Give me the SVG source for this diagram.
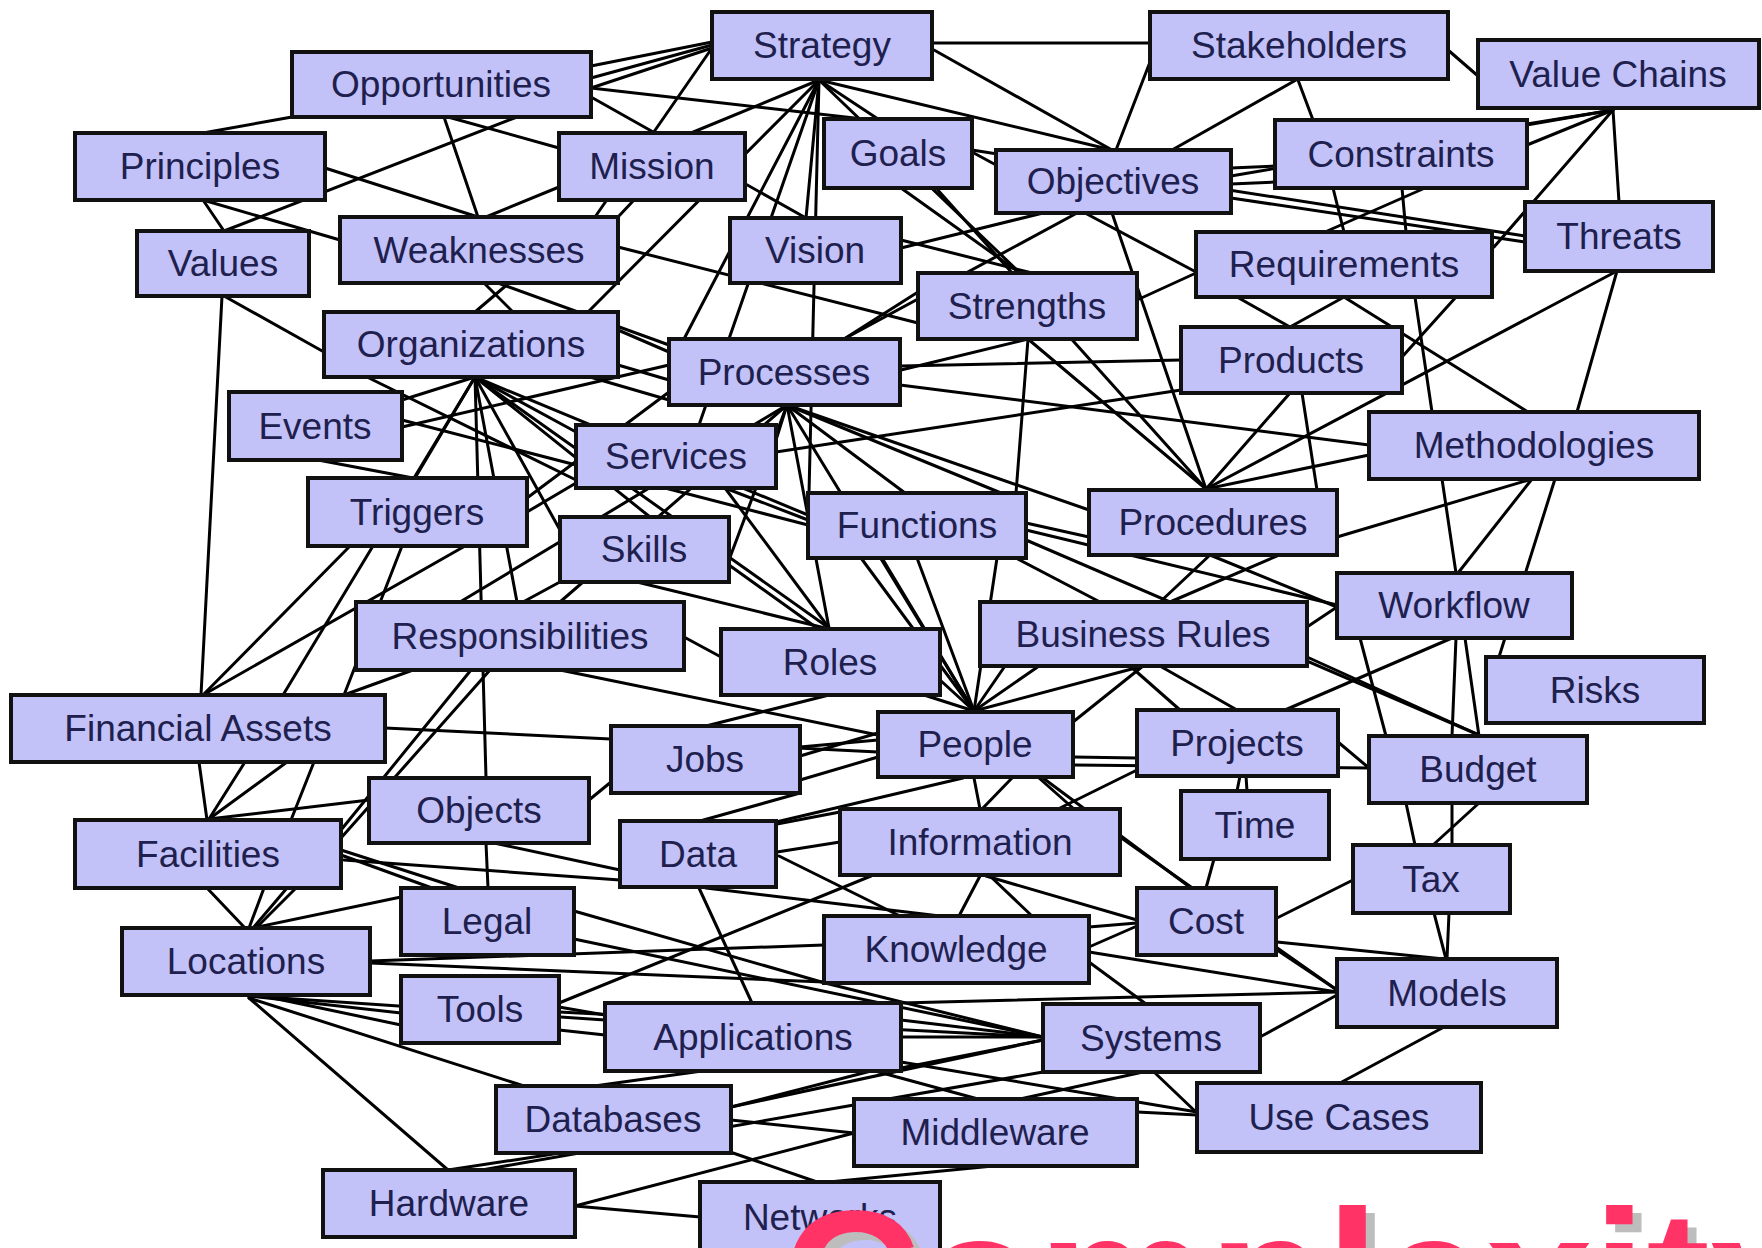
<svg xmlns="http://www.w3.org/2000/svg" width="1762" height="1248" viewBox="0 0 1762 1248">
<style>
.box{fill:#c2c2f8;stroke:#111;stroke-width:4}
.lbl{font-family:"Liberation Sans",Arial,sans-serif;font-size:37px;fill:#20204e;text-anchor:middle}
#connectors line{stroke:#000;stroke-width:3;stroke-linecap:round}
.big{font-family:"Liberation Sans",Arial,sans-serif;font-weight:bold;font-size:192px}
</style>
<rect width="1762" height="1248" fill="#fff"/>
<g id="connectors">
<line x1="932" y1="43" x2="1150" y2="43"/><line x1="1448" y1="50" x2="1478" y2="76"/><line x1="1296" y1="80" x2="1172" y2="150"/><line x1="1298" y1="80" x2="1313" y2="120"/><line x1="1150" y1="62" x2="1116" y2="150"/><line x1="934" y1="50" x2="1112" y2="150"/><line x1="819" y1="80" x2="1112" y2="150"/><line x1="712" y1="42" x2="591" y2="66"/><line x1="712" y1="45" x2="591" y2="78"/><line x1="712" y1="48" x2="591" y2="88"/><line x1="591" y1="88" x2="863" y2="119"/><line x1="591" y1="97" x2="806" y2="218"/><line x1="712" y1="48" x2="595" y2="217"/><line x1="819" y1="80" x2="691" y2="133"/><line x1="819" y1="80" x2="588" y2="312"/><line x1="819" y1="80" x2="684" y2="339"/><line x1="819" y1="80" x2="699" y2="425"/><line x1="819" y1="80" x2="806" y2="218"/><line x1="819" y1="80" x2="809" y2="493"/><line x1="819" y1="80" x2="878" y2="119"/><line x1="819" y1="80" x2="1020" y2="273"/><line x1="972" y1="152" x2="996" y2="165"/>
<line x1="1613" y1="110" x2="1231" y2="176"/><line x1="1613" y1="110" x2="1527" y2="145"/><line x1="1613" y1="110" x2="1527" y2="124"/><line x1="1613" y1="110" x2="1619" y2="202"/><line x1="1613" y1="110" x2="1494" y2="247"/><line x1="1231" y1="168" x2="1275" y2="166"/><line x1="1231" y1="184" x2="1275" y2="182"/><line x1="972" y1="150" x2="1525" y2="236"/><line x1="1231" y1="198" x2="1525" y2="242"/><line x1="1043" y1="213" x2="901" y2="248"/><line x1="1077" y1="213" x2="844" y2="339"/><line x1="1085" y1="213" x2="1196" y2="272"/><line x1="1112" y1="213" x2="1206" y2="489"/><line x1="936" y1="188" x2="1206" y2="489"/><line x1="901" y1="188" x2="1020" y2="273"/><line x1="901" y1="240" x2="1032" y2="273"/><line x1="618" y1="247" x2="918" y2="323"/><line x1="918" y1="292" x2="844" y2="339"/><line x1="1028" y1="339" x2="901" y2="370"/><line x1="1028" y1="339" x2="1016" y2="493"/><line x1="1028" y1="339" x2="1206" y2="489"/><line x1="1137" y1="300" x2="1196" y2="273"/>
<line x1="1333" y1="188" x2="1344" y2="232"/><line x1="1402" y1="188" x2="1406" y2="232"/><line x1="1425" y1="188" x2="1325" y2="232"/><line x1="1237" y1="297" x2="1290" y2="327"/><line x1="1344" y1="297" x2="1290" y2="327"/><line x1="1344" y1="297" x2="1528" y2="412"/><line x1="1415" y1="297" x2="1432" y2="412"/><line x1="1456" y1="297" x2="1402" y2="357"/><line x1="1617" y1="271" x2="1577" y2="412"/><line x1="1617" y1="271" x2="1206" y2="489"/><line x1="1290" y1="393" x2="1206" y2="489"/><line x1="1302" y1="393" x2="1317" y2="490"/><line x1="1206" y1="489" x2="1369" y2="455"/><line x1="1337" y1="537" x2="1532" y2="479"/><line x1="1442" y1="479" x2="1456" y2="573"/><line x1="1532" y1="479" x2="1458" y2="573"/><line x1="1555" y1="479" x2="1499" y2="657"/><line x1="900" y1="385" x2="1369" y2="445"/><line x1="901" y1="366" x2="1181" y2="360"/><line x1="776" y1="452" x2="1181" y2="390"/>
<line x1="292" y1="117" x2="203" y2="133"/><line x1="444" y1="117" x2="478" y2="217"/><line x1="517" y1="117" x2="224" y2="231"/><line x1="448" y1="117" x2="559" y2="148"/><line x1="325" y1="168" x2="478" y2="217"/><line x1="203" y1="200" x2="340" y2="240"/><line x1="203" y1="200" x2="224" y2="231"/><line x1="559" y1="187" x2="486" y2="217"/><line x1="634" y1="200" x2="618" y2="217"/><line x1="224" y1="296" x2="324" y2="352"/><line x1="222" y1="296" x2="201" y2="695"/><line x1="509" y1="283" x2="475" y2="312"/><line x1="484" y1="283" x2="513" y2="312"/><line x1="498" y1="283" x2="669" y2="345"/><line x1="618" y1="330" x2="669" y2="352"/><line x1="618" y1="365" x2="669" y2="380"/><line x1="590" y1="377" x2="669" y2="400"/>
<line x1="475" y1="377" x2="402" y2="400"/><line x1="475" y1="377" x2="415" y2="478"/><line x1="475" y1="377" x2="517" y2="602"/><line x1="475" y1="377" x2="486" y2="778"/><line x1="475" y1="377" x2="283" y2="695"/><line x1="367" y1="377" x2="576" y2="480"/><line x1="475" y1="377" x2="576" y2="432"/><line x1="475" y1="377" x2="829" y2="628"/><line x1="475" y1="377" x2="808" y2="515"/><line x1="475" y1="377" x2="560" y2="530"/><line x1="475" y1="377" x2="650" y2="517"/>
<line x1="318" y1="460" x2="413" y2="478"/><line x1="402" y1="427" x2="669" y2="365"/><line x1="402" y1="420" x2="808" y2="525"/><line x1="527" y1="512" x2="576" y2="483"/><line x1="350" y1="546" x2="203" y2="695"/><line x1="465" y1="546" x2="203" y2="695"/><line x1="402" y1="546" x2="344" y2="695"/><line x1="413" y1="670" x2="344" y2="695"/><line x1="385" y1="728" x2="878" y2="752"/>
<line x1="787" y1="405" x2="776" y2="440"/><line x1="787" y1="405" x2="729" y2="560"/><line x1="787" y1="405" x2="829" y2="628"/><line x1="787" y1="405" x2="905" y2="493"/><line x1="787" y1="405" x2="1001" y2="493"/><line x1="787" y1="405" x2="1089" y2="510"/><line x1="787" y1="405" x2="974" y2="711"/><line x1="787" y1="405" x2="560" y2="602"/><line x1="787" y1="405" x2="460" y2="602"/><line x1="669" y1="392" x2="527" y2="498"/>
<line x1="725" y1="488" x2="808" y2="520"/><line x1="725" y1="488" x2="829" y2="628"/><line x1="729" y1="565" x2="817" y2="628"/><line x1="637" y1="582" x2="825" y2="628"/><line x1="558" y1="583" x2="523" y2="602"/><line x1="684" y1="637" x2="721" y2="657"/><line x1="560" y1="670" x2="878" y2="735"/><line x1="829" y1="695" x2="706" y2="726"/><line x1="800" y1="747" x2="878" y2="740"/><line x1="800" y1="756" x2="878" y2="733"/><line x1="800" y1="780" x2="878" y2="757"/>
<line x1="861" y1="558" x2="974" y2="711"/><line x1="882" y1="558" x2="974" y2="711"/><line x1="917" y1="558" x2="974" y2="711"/><line x1="997" y1="558" x2="974" y2="711"/><line x1="924" y1="695" x2="974" y2="711"/><line x1="940" y1="680" x2="974" y2="711"/><line x1="1005" y1="666" x2="974" y2="711"/><line x1="1039" y1="666" x2="974" y2="711"/><line x1="1143" y1="666" x2="974" y2="711"/><line x1="1143" y1="666" x2="1073" y2="722"/>
<line x1="1026" y1="523" x2="1089" y2="537"/><line x1="1026" y1="530" x2="1337" y2="605"/><line x1="1026" y1="540" x2="1479" y2="735"/><line x1="1016" y1="558" x2="1100" y2="602"/><line x1="1210" y1="555" x2="1160" y2="602"/><line x1="1279" y1="555" x2="1170" y2="602"/><line x1="1210" y1="555" x2="1337" y2="607"/><line x1="1307" y1="627" x2="1337" y2="607"/><line x1="1307" y1="657" x2="1479" y2="735"/><line x1="1452" y1="638" x2="1285" y2="710"/><line x1="1360" y1="638" x2="1386" y2="736"/><line x1="1456" y1="638" x2="1452" y2="736"/><line x1="1465" y1="638" x2="1479" y2="736"/><line x1="1160" y1="666" x2="1237" y2="710"/><line x1="1130" y1="666" x2="1180" y2="710"/><line x1="1338" y1="742" x2="1369" y2="768"/><line x1="1073" y1="765" x2="1369" y2="768"/><line x1="1073" y1="757" x2="1137" y2="758"/><line x1="1237" y1="791" x2="1240" y2="776"/><line x1="1247" y1="791" x2="1246" y2="776"/><line x1="1406" y1="803" x2="1415" y2="845"/><line x1="1452" y1="803" x2="1452" y2="845"/><line x1="1479" y1="803" x2="1433" y2="845"/>
<line x1="974" y1="778" x2="980" y2="809"/><line x1="1012" y1="778" x2="982" y2="809"/><line x1="1039" y1="778" x2="1074" y2="809"/><line x1="963" y1="778" x2="776" y2="822"/><line x1="1137" y1="770" x2="1058" y2="809"/><line x1="777" y1="824" x2="840" y2="812"/><line x1="777" y1="852" x2="840" y2="842"/><line x1="986" y1="876" x2="1137" y2="920"/><line x1="1120" y1="837" x2="1337" y2="990"/><line x1="871" y1="876" x2="559" y2="1003"/><line x1="1043" y1="778" x2="1191" y2="888"/><line x1="1214" y1="859" x2="1206" y2="888"/><line x1="1277" y1="918" x2="1353" y2="880"/><line x1="1277" y1="942" x2="1444" y2="959"/><line x1="1277" y1="950" x2="1337" y2="990"/><line x1="1434" y1="913" x2="1446" y2="959"/><line x1="1449" y1="913" x2="1447" y2="959"/><line x1="1444" y1="1027" x2="1340" y2="1083"/><line x1="980" y1="876" x2="959" y2="916"/><line x1="990" y1="876" x2="1032" y2="916"/><line x1="779" y1="856" x2="900" y2="916"/><line x1="706" y1="888" x2="940" y2="916"/><line x1="699" y1="888" x2="752" y2="1003"/><line x1="700" y1="821" x2="800" y2="793"/>
<line x1="199" y1="762" x2="207" y2="820"/><line x1="245" y1="762" x2="209" y2="819"/><line x1="287" y1="762" x2="209" y2="819"/><line x1="314" y1="762" x2="291" y2="820"/><line x1="209" y1="819" x2="369" y2="800"/><line x1="471" y1="670" x2="341" y2="830"/><line x1="490" y1="670" x2="341" y2="838"/><line x1="486" y1="843" x2="488" y2="888"/><line x1="494" y1="843" x2="620" y2="870"/><line x1="589" y1="800" x2="611" y2="782"/><line x1="341" y1="850" x2="459" y2="888"/><line x1="341" y1="855" x2="432" y2="888"/><line x1="344" y1="860" x2="620" y2="880"/><line x1="207" y1="888" x2="245" y2="928"/><line x1="264" y1="888" x2="249" y2="928"/><line x1="287" y1="888" x2="253" y2="928"/><line x1="296" y1="888" x2="256" y2="928"/><line x1="253" y1="928" x2="401" y2="897"/><line x1="370" y1="963" x2="824" y2="982"/><line x1="370" y1="961" x2="824" y2="945"/><line x1="574" y1="911" x2="825" y2="983"/><line x1="574" y1="939" x2="1043" y2="1037"/><line x1="249" y1="996" x2="401" y2="1013"/><line x1="268" y1="997" x2="401" y2="1025"/><line x1="249" y1="996" x2="605" y2="1020"/><line x1="249" y1="998" x2="524" y2="1086"/><line x1="249" y1="998" x2="448" y2="1170"/><line x1="559" y1="1007" x2="605" y2="1015"/><line x1="559" y1="1012" x2="1043" y2="1037"/><line x1="559" y1="1030" x2="605" y2="1035"/><line x1="731" y1="1107" x2="1043" y2="1040"/><line x1="731" y1="1120" x2="854" y2="1133"/><line x1="733" y1="1153" x2="817" y2="1182"/><line x1="448" y1="1170" x2="560" y2="1153"/><line x1="482" y1="1170" x2="1043" y2="1072"/><line x1="854" y1="1133" x2="575" y2="1206"/><line x1="702" y1="1071" x2="580" y2="1088"/><line x1="871" y1="1071" x2="731" y2="1107"/><line x1="901" y1="1020" x2="1043" y2="1037"/><line x1="901" y1="1037" x2="1043" y2="1037"/><line x1="901" y1="1068" x2="1043" y2="1040"/><line x1="875" y1="1071" x2="978" y2="1099"/><line x1="901" y1="1062" x2="1197" y2="1112"/><line x1="825" y1="983" x2="1043" y2="1037"/><line x1="1089" y1="927" x2="1137" y2="923"/><line x1="1089" y1="947" x2="1137" y2="926"/><line x1="1089" y1="952" x2="1337" y2="992"/><line x1="1089" y1="962" x2="1146" y2="1004"/><line x1="1020" y1="1099" x2="1143" y2="1072"/><line x1="1137" y1="1112" x2="1197" y2="1115"/><line x1="993" y1="1166" x2="829" y2="1182"/><line x1="700" y1="1217" x2="575" y2="1206"/><line x1="1260" y1="1037" x2="1337" y2="995"/><line x1="1154" y1="1072" x2="1197" y2="1113"/><line x1="901" y1="1003" x2="1337" y2="992"/>
</g>
<g id="strategy"><rect class="box" x="712" y="12" width="220" height="67"/><text class="lbl" x="822" y="58">Strategy</text></g>
<g id="stakeholders"><rect class="box" x="1150" y="12" width="298" height="67"/><text class="lbl" x="1299" y="58">Stakeholders</text></g>
<g id="valuechains"><rect class="box" x="1478" y="40" width="281" height="68"/><text class="lbl" x="1618" y="87">Value Chains</text></g>
<g id="opportunities"><rect class="box" x="292" y="52" width="299" height="65"/><text class="lbl" x="441" y="97">Opportunities</text></g>
<g id="principles"><rect class="box" x="75" y="133" width="250" height="67"/><text class="lbl" x="200" y="179">Principles</text></g>
<g id="mission"><rect class="box" x="559" y="133" width="186" height="67"/><text class="lbl" x="652" y="179">Mission</text></g>
<g id="goals"><rect class="box" x="824" y="119" width="148" height="69"/><text class="lbl" x="898" y="166">Goals</text></g>
<g id="objectives"><rect class="box" x="996" y="150" width="235" height="63"/><text class="lbl" x="1113" y="194">Objectives</text></g>
<g id="constraints"><rect class="box" x="1275" y="120" width="252" height="68"/><text class="lbl" x="1401" y="167">Constraints</text></g>
<g id="threats"><rect class="box" x="1525" y="202" width="188" height="69"/><text class="lbl" x="1619" y="249">Threats</text></g>
<g id="values"><rect class="box" x="137" y="231" width="172" height="65"/><text class="lbl" x="223" y="276">Values</text></g>
<g id="weaknesses"><rect class="box" x="340" y="217" width="278" height="66"/><text class="lbl" x="479" y="263">Weaknesses</text></g>
<g id="vision"><rect class="box" x="730" y="218" width="171" height="65"/><text class="lbl" x="815" y="263">Vision</text></g>
<g id="requirements"><rect class="box" x="1196" y="232" width="296" height="65"/><text class="lbl" x="1344" y="277">Requirements</text></g>
<g id="strengths"><rect class="box" x="918" y="273" width="219" height="66"/><text class="lbl" x="1027" y="319">Strengths</text></g>
<g id="organizations"><rect class="box" x="324" y="312" width="294" height="65"/><text class="lbl" x="471" y="357">Organizations</text></g>
<g id="processes"><rect class="box" x="669" y="339" width="231" height="66"/><text class="lbl" x="784" y="385">Processes</text></g>
<g id="products"><rect class="box" x="1181" y="327" width="221" height="66"/><text class="lbl" x="1291" y="373">Products</text></g>
<g id="events"><rect class="box" x="229" y="392" width="173" height="68"/><text class="lbl" x="315" y="439">Events</text></g>
<g id="methodologies"><rect class="box" x="1369" y="412" width="330" height="67"/><text class="lbl" x="1534" y="458">Methodologies</text></g>
<g id="services"><rect class="box" x="576" y="425" width="200" height="63"/><text class="lbl" x="676" y="469">Services</text></g>
<g id="triggers"><rect class="box" x="308" y="478" width="219" height="68"/><text class="lbl" x="417" y="525">Triggers</text></g>
<g id="functions"><rect class="box" x="808" y="493" width="218" height="65"/><text class="lbl" x="917" y="538">Functions</text></g>
<g id="procedures"><rect class="box" x="1089" y="490" width="248" height="65"/><text class="lbl" x="1213" y="535">Procedures</text></g>
<g id="skills"><rect class="box" x="560" y="517" width="169" height="65"/><text class="lbl" x="644" y="562">Skills</text></g>
<g id="workflow"><rect class="box" x="1337" y="573" width="235" height="65"/><text class="lbl" x="1454" y="618">Workflow</text></g>
<g id="responsibilities"><rect class="box" x="356" y="602" width="328" height="68"/><text class="lbl" x="520" y="649">Responsibilities</text></g>
<g id="roles"><rect class="box" x="721" y="629" width="219" height="66"/><text class="lbl" x="830" y="675">Roles</text></g>
<g id="businessrules"><rect class="box" x="980" y="602" width="327" height="64"/><text class="lbl" x="1143" y="647">Business Rules</text></g>
<g id="risks"><rect class="box" x="1486" y="657" width="218" height="66"/><text class="lbl" x="1595" y="703">Risks</text></g>
<g id="financialassets"><rect class="box" x="11" y="695" width="374" height="67"/><text class="lbl" x="198" y="741">Financial Assets</text></g>
<g id="jobs"><rect class="box" x="611" y="726" width="189" height="67"/><text class="lbl" x="705" y="772">Jobs</text></g>
<g id="people"><rect class="box" x="878" y="712" width="195" height="65"/><text class="lbl" x="975" y="757">People</text></g>
<g id="projects"><rect class="box" x="1137" y="710" width="201" height="66"/><text class="lbl" x="1237" y="756">Projects</text></g>
<g id="budget"><rect class="box" x="1369" y="736" width="218" height="67"/><text class="lbl" x="1478" y="782">Budget</text></g>
<g id="objects"><rect class="box" x="369" y="778" width="220" height="65"/><text class="lbl" x="479" y="823">Objects</text></g>
<g id="facilities"><rect class="box" x="75" y="820" width="266" height="68"/><text class="lbl" x="208" y="867">Facilities</text></g>
<g id="data"><rect class="box" x="620" y="821" width="156" height="66"/><text class="lbl" x="698" y="867">Data</text></g>
<g id="information"><rect class="box" x="840" y="809" width="280" height="66"/><text class="lbl" x="980" y="855">Information</text></g>
<g id="time"><rect class="box" x="1181" y="791" width="148" height="68"/><text class="lbl" x="1255" y="838">Time</text></g>
<g id="tax"><rect class="box" x="1353" y="845" width="157" height="68"/><text class="lbl" x="1431" y="892">Tax</text></g>
<g id="legal"><rect class="box" x="401" y="888" width="173" height="67"/><text class="lbl" x="487" y="934">Legal</text></g>
<g id="locations"><rect class="box" x="122" y="928" width="248" height="67"/><text class="lbl" x="246" y="974">Locations</text></g>
<g id="knowledge"><rect class="box" x="824" y="916" width="265" height="67"/><text class="lbl" x="956" y="962">Knowledge</text></g>
<g id="cost"><rect class="box" x="1137" y="888" width="139" height="67"/><text class="lbl" x="1206" y="934">Cost</text></g>
<g id="models"><rect class="box" x="1337" y="959" width="220" height="68"/><text class="lbl" x="1447" y="1006">Models</text></g>
<g id="tools"><rect class="box" x="401" y="976" width="158" height="67"/><text class="lbl" x="480" y="1022">Tools</text></g>
<g id="applications"><rect class="box" x="605" y="1003" width="296" height="68"/><text class="lbl" x="753" y="1050">Applications</text></g>
<g id="systems"><rect class="box" x="1043" y="1004" width="217" height="68"/><text class="lbl" x="1151" y="1051">Systems</text></g>
<g id="databases"><rect class="box" x="496" y="1086" width="235" height="67"/><text class="lbl" x="613" y="1132">Databases</text></g>
<g id="middleware"><rect class="box" x="854" y="1099" width="283" height="67"/><text class="lbl" x="995" y="1145">Middleware</text></g>
<g id="usecases"><rect class="box" x="1197" y="1083" width="284" height="69"/><text class="lbl" x="1339" y="1130">Use Cases</text></g>
<g id="hardware"><rect class="box" x="323" y="1170" width="252" height="67"/><text class="lbl" x="449" y="1216">Hardware</text></g>
<g id="networks"><rect class="box" x="700" y="1182" width="240" height="72"/><text class="lbl" x="820" y="1230">Networks</text></g>
<g id="title">
<text class="big" x="791" y="1352" fill="#bdbdbd">Complexity</text>
<text class="big" x="782" y="1344" fill="#ff3366">Complexity</text>
</g>
</svg>
